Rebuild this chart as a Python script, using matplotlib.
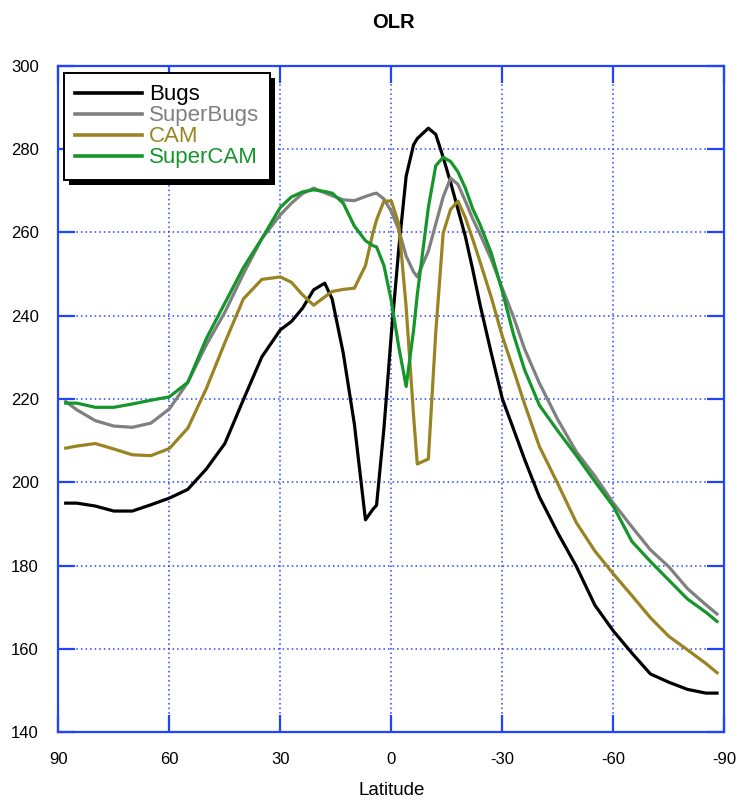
import matplotlib
matplotlib.use("Agg")
import matplotlib.pyplot as plt
from matplotlib.patches import Rectangle
from matplotlib.transforms import IdentityTransform

plt.rcParams["font.family"] = ["Liberation Sans", "DejaVu Sans"]
plt.rcParams["axes.unicode_minus"] = False

BLUE = "#2244ff"

# zonal-mean outgoing longwave radiation (W/m2) by latitude
lat = [88, 85, 80, 75, 70, 65, 60, 55, 50, 45, 40, 35, 30, 27, 24, 21, 18, 16,
       13, 10, 7, 5, 4, 2, 0, -2, -4, -6, -7, -10, -12, -14, -16, -18, -20,
       -22, -24, -27, -30, -33, -36, -40, -45, -50, -55, -60, -65, -70, -75,
       -80, -85, -88]

bugs = [195.0, 195.0, 194.3, 193.1, 193.1, 194.6, 196.2, 198.3, 203.2, 209.3,
        219.8, 230.1, 236.6, 238.6, 241.8, 246.2, 247.8, 244.0, 231.0, 214.0,
        191.0, 193.5, 194.5, 213.0, 235.7, 256.0, 273.5, 281.0, 282.5, 285.0,
        283.5, 278.0, 272.0, 265.5, 259.0, 251.0, 242.5, 231.0, 220.0, 212.8,
        205.5, 196.5, 187.8, 179.8, 170.5, 164.3, 159.0, 154.0, 152.0, 150.3,
        149.4, 149.4]

superbugs = [219.4, 217.4, 214.8, 213.5, 213.2, 214.2, 217.6, 224.0, 233.0,
             240.8, 250.0, 258.5, 264.2, 267.0, 269.3, 270.6, 269.5, 268.8,
             267.8, 267.6, 268.6, 269.2, 269.4, 268.0, 265.0, 260.6, 254.3,
             250.5, 249.3, 255.5, 262.0, 268.5, 273.0, 271.5, 267.5, 263.2,
             259.5, 253.5, 246.5, 239.7, 232.0, 223.8, 215.0, 207.3, 201.5,
             195.0, 189.3, 183.8, 179.7, 174.5, 170.6, 168.4]

cam = [208.2, 208.7, 209.3, 208.0, 206.6, 206.4, 208.1, 213.0, 222.5, 233.5,
       244.0, 248.7, 249.3, 248.0, 245.0, 242.5, 244.5, 245.8, 246.3, 246.6,
       252.0, 259.8, 263.0, 267.5, 267.5, 262.0, 242.0, 216.0, 204.4, 205.6,
       236.0, 259.8, 265.5, 267.5, 263.5, 258.3, 252.8, 244.4, 235.0, 227.0,
       218.8, 208.6, 199.6, 190.3, 183.5, 178.0, 172.8, 167.5, 163.0, 159.8,
       156.5, 154.3]

supercam = [219.0, 219.0, 218.0, 218.0, 218.8, 219.7, 220.5, 224.0, 234.5,
            243.0, 251.5, 258.5, 266.0, 268.5, 269.7, 270.2, 269.8, 269.4,
            267.0, 261.5, 258.0, 256.8, 256.5, 252.0, 243.5, 232.5, 223.0,
            236.5, 245.0, 266.0, 276.0, 278.0, 277.0, 274.5, 270.6, 265.6,
            261.8, 255.0, 245.8, 235.5, 227.0, 218.5, 212.3, 206.4, 200.2,
            194.2, 185.8, 181.0, 176.5, 172.0, 168.8, 166.6]

names = ["Bugs", "SuperBugs", "CAM", "SuperCAM"]
colors = ["#000000", "#808080", "#9a8322", "#14962a"]

fig = plt.figure(figsize=(7.38, 8.01), dpi=100)
ax = fig.add_axes([0.079, 0.0858, 0.9026, 0.8322])

for vals, name, c in zip([bugs, superbugs, cam, supercam], names, colors):
    ax.plot(lat, vals, color=c, lw=2.3, label=name)

ax.set_xlim(90, -90)
ax.set_ylim(140, 300)
ax.set_xticks([90, 60, 30, 0, -30, -60, -90])
ax.set_yticks(range(140, 301, 20))
ax.grid(True, color=BLUE, ls=(0, (1, 2)), lw=1.1)
ax.tick_params(direction="in", length=12, width=1.6, color=BLUE,
               top=True, right=True, labelsize=12, pad=14)
for sp in ax.spines.values():
    sp.set_color(BLUE)
    sp.set_linewidth(1.6)

ax.set_xlabel("Latitude", fontsize=13.5)
ax.xaxis.set_label_coords(0.5, -0.0746)
ax.xaxis.label.set_va("top")
fig.text(0.5326, 0.9725, "OLR", ha="center", va="center",
         fontsize=14.5, fontweight="bold")

leg = ax.legend(loc="upper left", bbox_to_anchor=(0.009, 0.9886),
                borderaxespad=0, fontsize=16, handlelength=3.0,
                handletextpad=0.3, labelspacing=0, borderpad=0.5,
                fancybox=False, framealpha=1)
leg.get_frame().set_edgecolor("black")
leg.get_frame().set_linewidth(1.4)
for txt, c in zip(leg.get_texts(), colors):
    txt.set_color(c)
for h in leg.get_lines():
    h.set_linewidth(2.6)

# solid drop shadow behind the legend box
fig.canvas.draw()
bb = leg.get_window_extent()
ax.add_patch(Rectangle((bb.x0 + 5, bb.y0 - 5), bb.width, bb.height,
                       transform=IdentityTransform(), facecolor="black",
                       edgecolor="none", zorder=4.9, clip_on=False))

fig.savefig("out.png", dpi=100)
